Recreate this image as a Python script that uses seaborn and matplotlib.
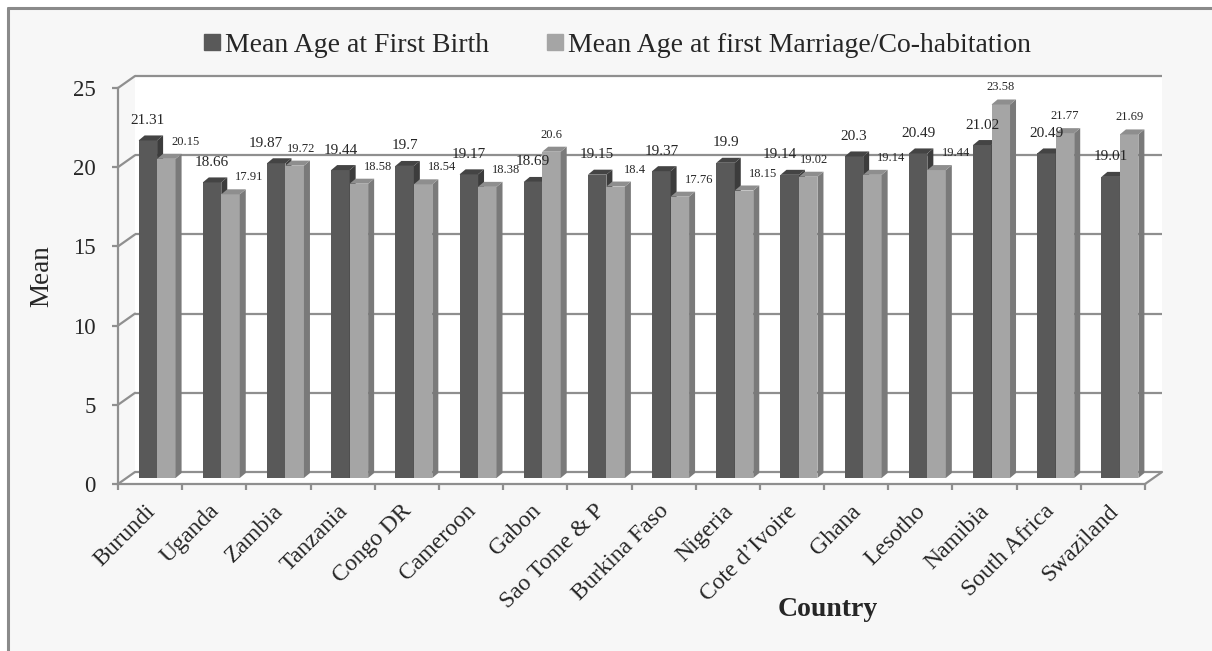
import numpy as np
import pandas as pd
import matplotlib
matplotlib.use("Agg")
import matplotlib.pyplot as plt
import matplotlib.transforms as mtransforms
from matplotlib.patches import Polygon, Rectangle
from matplotlib.lines import Line2D
import seaborn as sns

# ---- data -------------------------------------------------------------
countries = ["Burundi", "Uganda", "Zambia", "Tanzania", "Congo DR", "Cameroon",
             "Gabon", "Sao Tome & P", "Burkina Faso", "Nigeria", "Cote d\u2019Ivoire",
             "Ghana", "Lesotho", "Namibia", "South Africa", "Swaziland"]
first_birth = [21.31, 18.66, 19.87, 19.44, 19.70, 19.17, 18.69, 19.15,
               19.37, 19.90, 19.14, 20.30, 20.49, 21.02, 20.49, 19.01]
first_marriage = [20.15, 17.91, 19.72, 18.58, 18.54, 18.38, 20.60, 18.40,
                  17.76, 18.15, 19.02, 19.14, 19.44, 23.58, 21.77, 21.69]
series_names = ["Mean Age at First Birth", "Mean Age at first Marriage/Co-habitation"]
y_ticks = [0, 5, 10, 15, 20, 25]

df = pd.DataFrame({
    "Country": countries * 2,
    "Mean": first_birth + first_marriage,
    "Series": [series_names[0]] * len(countries) + [series_names[1]] * len(countries),
})

# ---- style ------------------------------------------------------------
sns.set_style("white")
plt.rcParams["font.family"] = ["Liberation Serif", "DejaVu Serif"]

W, H = 1212, 651
DPI = 100
PX = 1.0 / DPI

front_cols = ["#595959", "#a5a5a5"]
side_cols = ["#3c3c3c", "#7a7a7a"]
top_cols = ["#444444", "#8e8e8e"]
grid_col = "#8f8f8f"
bg_col = "#f7f7f7"

fig = plt.figure(figsize=(W / DPI, H / DPI), dpi=DPI, facecolor="white")

# chart area panel with its frame on the left and top
fig.patches.append(Rectangle((8 / W, 0), 1 - 8 / W, 1 - 8 / H, transform=fig.transFigure,
                             facecolor=bg_col, edgecolor="none", zorder=-5))
fig.add_artist(Line2D([8 / W, 8 / W], [0, 1 - 8 / H], transform=fig.transFigure,
                      color="#8a8a8a", lw=2.2, zorder=-4))
fig.add_artist(Line2D([8 / W, 1], [1 - 8 / H, 1 - 8 / H], transform=fig.transFigure,
                      color="#8a8a8a", lw=2.2, zorder=-4))

ax = fig.add_axes([118 / W, 167 / H, 1027 / W, 396 / H])
ax.set_facecolor("none")

sns.barplot(data=df, x="Country", y="Mean", hue="Series", palette=front_cols,
            width=0.576, saturation=1, errorbar=None, legend=False,
            edgecolor="none", linewidth=0, ax=ax, zorder=3)

n = len(countries)
ax.set_xlim(-0.5, n - 0.5)
ax.set_ylim(0, 25)

# pseudo-3D geometry (pixel offsets)
def px_shift(dx, dy):
    return mtransforms.ScaledTranslation(dx * PX, dy * PX, fig.dpi_scale_trans)

bar_tr = ax.transData + px_shift(7, 6)
back_tr = ax.transData + px_shift(17, 12)
depth = np.array([6.0, 5.0])
ident = mtransforms.IdentityTransform()

# back wall, floor and grid
ax.add_patch(Rectangle((-0.5, 0), n, 25, transform=back_tr, facecolor="white",
                       edgecolor="none", zorder=0.5, clip_on=False))
f0 = ax.transData.transform((-0.5, 0))
f1 = ax.transData.transform((n - 0.5, 0))
b0 = back_tr.transform((-0.5, 0))
b1 = back_tr.transform((n - 0.5, 0))
ax.add_patch(Polygon([f0, f1, b1, b0], closed=True, transform=ident, facecolor="white",
                     edgecolor="none", zorder=0.5, clip_on=False))
for t in y_ticks:
    ax.plot([-0.5, n - 0.5], [t, t], transform=back_tr, color=grid_col, lw=1.6,
            zorder=1, clip_on=False, solid_capstyle="butt")
    p_front = ax.transData.transform((-0.5, t))
    p_back = back_tr.transform((-0.5, t))
    ax.add_line(Line2D([p_front[0], p_back[0]], [p_front[1], p_back[1]], transform=ident,
                       color=grid_col, lw=1.6, zorder=1, clip_on=False))
ax.add_line(Line2D([f1[0], b1[0]], [f1[1], b1[1]], transform=ident, color=grid_col,
                   lw=1.6, zorder=1, clip_on=False))

# bars: shift the front faces, then add side and top faces
for s, container in enumerate(ax.containers):
    for bar in container:
        bar.set_transform(bar_tr)
        bar.set_zorder(3 + s)
        bar.set_clip_on(False)
        x0, w, h = bar.get_x(), bar.get_width(), bar.get_height()
        bl = bar_tr.transform((x0 + w, 0))
        tr = bar_tr.transform((x0 + w, h))
        tl = bar_tr.transform((x0, h))
        ax.add_patch(Polygon([bl, tr, tr + depth, bl + depth], closed=True, transform=ident,
                             facecolor=side_cols[s], edgecolor="none", zorder=3.1 + s,
                             clip_on=False))
        ax.add_patch(Polygon([tl, tr, tr + depth, tl + depth], closed=True, transform=ident,
                             facecolor=top_cols[s], edgecolor="none", zorder=3.1 + s,
                             clip_on=False))

# value labels; labels of a shorter second bar sit to its right
dark_bars = list(ax.containers[0])
light_bars = list(ax.containers[1])
for i in range(n):
    db, lb = dark_bars[i], light_bars[i]
    vd, vl = first_birth[i], first_marriage[i]
    diff = vd - vl
    if diff > 0.3:
        dx_d, dx_l = 0, 19
    elif diff > 0:
        dx_d, dx_l = -10, 6
    else:
        dx_d, dx_l = 0, 0
    xd = db.get_x() + db.get_width() / 2
    ax.text(xd, vd, f"{vd:g}", transform=bar_tr + px_shift(dx_d, 20),
            ha="center", va="center", fontsize=11, zorder=6, clip_on=False)
    xl = lb.get_x() + lb.get_width() / 2
    ax.text(xl, vl, f"{vl:g}", transform=bar_tr + px_shift(dx_l, 17),
            ha="center", va="center", fontsize=9, zorder=6, clip_on=False)

# axes, ticks and labels
for side in ["top", "right"]:
    ax.spines[side].set_visible(False)
for side in ["left", "bottom"]:
    ax.spines[side].set_color(grid_col)
    ax.spines[side].set_linewidth(1.6)
ax.set_yticks(y_ticks)
ax.set_yticklabels([str(t) for t in y_ticks], fontsize=16.5)
ax.tick_params(axis="y", length=4, width=1.6, color=grid_col, pad=12, direction="out",
               left=True)
ax.set_xticks(range(n))
ax.set_xticklabels([""] * n)
ax.tick_params(axis="x", which="major", length=0)
ax.set_xticks(np.arange(-0.5, n, 1), minor=True)
ax.tick_params(axis="x", which="minor", length=4, width=1.6, color=grid_col,
               direction="out", bottom=True)
ax.set_xlabel("")
ax.set_ylabel("")

label_tr = ax.transData + px_shift(2, -24)
for i, name in enumerate(countries):
    ax.text(i, 0, name, transform=label_tr, rotation=45, ha="right", va="center",
            rotation_mode="anchor", fontsize=17, clip_on=False)

fig.text(42 / W, 1 - 276 / H, "Mean", rotation=90, ha="center", va="center", fontsize=19.5)
fig.text(828 / W, 1 - 609 / H, "Country", ha="center", va="center", fontsize=20,
         fontweight="bold")

handles = [Line2D([], [], marker="s", linestyle="none", markersize=11,
                  markerfacecolor=c, markeredgecolor=c) for c in front_cols]
fig.legend(handles, series_names, loc="center", bbox_to_anchor=(616 / W, 1 - 45 / H),
           ncol=2, frameon=False, fontsize=20, handletextpad=0.05,
           columnspacing=2.0, handlelength=0.8, borderpad=0)

fig.savefig("out.png", dpi=DPI, facecolor=fig.get_facecolor())
